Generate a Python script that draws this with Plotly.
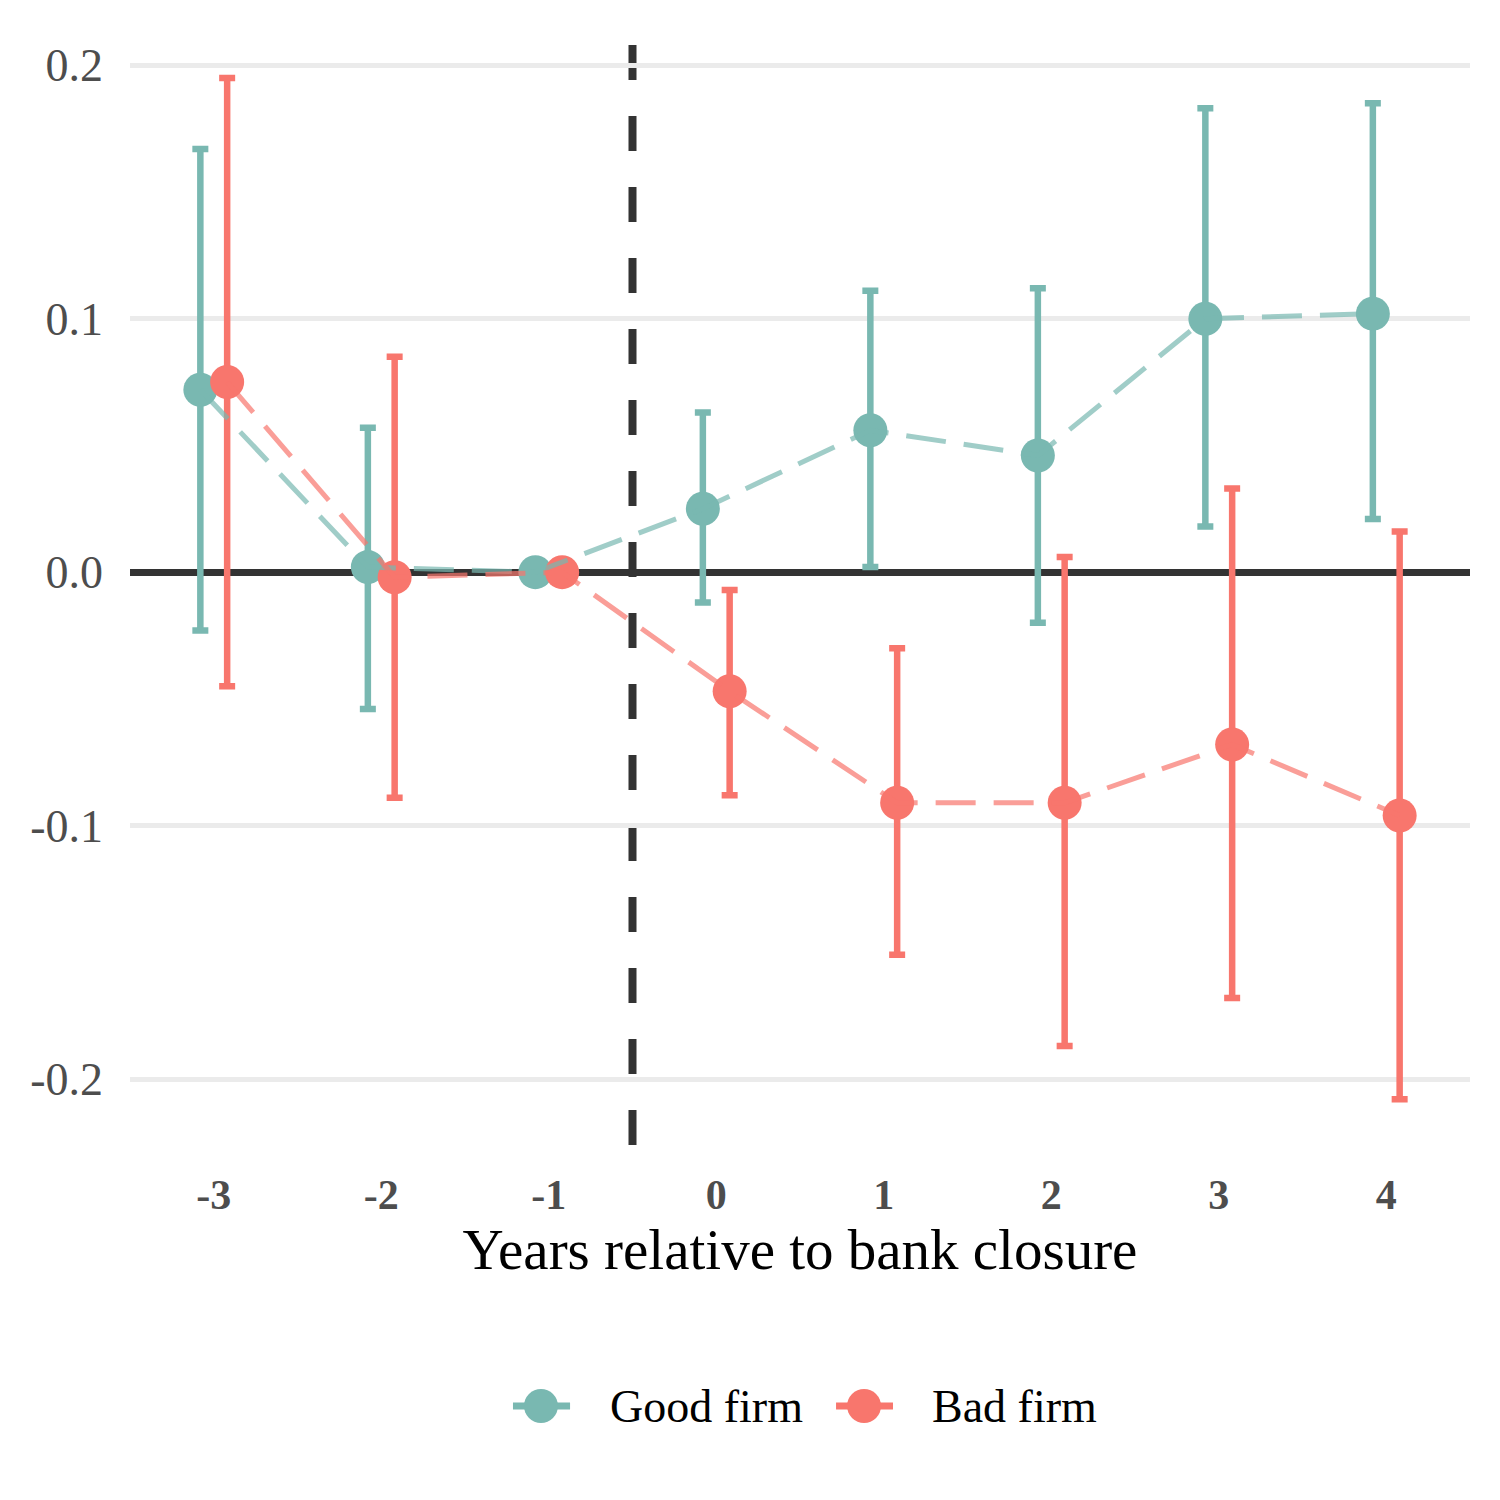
import plotly.graph_objects as go

years = [-3, -2, -1, 0, 1, 2, 3, 4]
tick_labels = ["-3", "-2", "-1", "0", "1", "2", "3", "4"]

good_est = [0.072, 0.002, 0.0, 0.025, 0.056, 0.046, 0.100, 0.102]
good_hi = [0.167, 0.057, None, 0.063, 0.111, 0.112, 0.183, 0.185]
good_lo = [-0.023, -0.054, None, -0.012, 0.002, -0.020, 0.018, 0.021]

bad_est = [0.075, -0.002, 0.0, -0.047, -0.091, -0.091, -0.068, -0.096]
bad_hi = [0.195, 0.085, None, -0.007, -0.030, 0.006, 0.033, 0.016]
bad_lo = [-0.045, -0.089, None, -0.088, -0.151, -0.187, -0.168, -0.208]

legend_names = ["Good firm", "Bad firm"]

dodge = 0.08
GOOD = "#79B8B1"
BAD = "#F8766D"
FONT = "Liberation Serif"


def errs(est, hi, lo):
    plus = [(h - e) if h is not None else 0 for e, h in zip(est, hi)]
    minus = [(e - l) if l is not None else 0 for e, l in zip(est, lo)]
    return plus, minus


fig = go.Figure()

series = [
    (legend_names[0], good_est, good_hi, good_lo, GOOD, -dodge),
    (legend_names[1], bad_est, bad_hi, bad_lo, BAD, dodge),
]

for name, est, hi, lo, col, off in series:
    xs = [y + off for y in years]
    plus, minus = errs(est, hi, lo)
    fig.add_trace(go.Scatter(
        x=xs, y=est, mode="markers", name=name, showlegend=False,
        marker=dict(color=col, size=34),
        error_y=dict(type="data", symmetric=False, array=plus, arrayminus=minus,
                     color=col, thickness=6.5, width=8),
    ))

for name, est, hi, lo, col, off in series:
    xs = [y + off for y in years]
    fig.add_trace(go.Scatter(
        x=xs, y=est, mode="lines", showlegend=False, opacity=0.7,
        line=dict(color=col, width=5, dash="40px,18px"),
    ))

# reference line at the closure
fig.add_shape(type="line", xref="x", yref="paper", x0=-0.5, x1=-0.5, y0=1, y1=0,
              line=dict(color="#333333", width=8, dash="35px,36px"), layer="between")

# custom legend (guide, in paper coordinates of the plot area)
legend_keys = [
    (legend_names[0], GOOD, 0.2858, 0.3284, 0.3067, 0.3567),
    (legend_names[1], BAD, 0.5269, 0.5694, 0.5478, 0.5970),
]
ly = -0.2317
r_x = 17 / 1340
r_y = 17 / 1105
for name, col, x0, x1, xc, xt in legend_keys:
    fig.add_shape(type="line", xref="paper", yref="paper", x0=x0, x1=x1, y0=ly, y1=ly,
                  line=dict(color=col, width=7))
    fig.add_shape(type="circle", xref="paper", yref="paper",
                  x0=xc - r_x, x1=xc + r_x, y0=ly - r_y, y1=ly + r_y,
                  line=dict(width=0), fillcolor=col)
    fig.add_annotation(text=name, xref="paper", yref="paper", x=xt, y=ly,
                       xanchor="left", yanchor="middle", showarrow=False,
                       font=dict(family=FONT, size=46, color="black"))

fig.update_layout(
    width=1500, height=1500,
    margin=dict(l=122, r=38, t=37, b=358),
    plot_bgcolor="white", paper_bgcolor="white",
    font=dict(family=FONT, color="black"),
    showlegend=False,
    xaxis=dict(
        range=[-3.5, 4.5], tickvals=years, ticktext=tick_labels,
        showgrid=False, zeroline=False, showline=False, ticks="",
        tickfont=dict(family=FONT, size=42, color="#4D4D4D", weight="bold"),
        ticklabelstandoff=16,
        title=dict(text="Years relative to bank closure",
                   font=dict(family=FONT, size=57, color="black"), standoff=12),
    ),
    yaxis=dict(
        range=[-0.228, 0.208], tickvals=[-0.2, -0.1, 0.0, 0.1, 0.2],
        ticktext=["-0.2", "-0.1", "0.0", "0.1", "0.2"],
        showgrid=True, gridcolor="#EBEBEB", gridwidth=4.5,
        zeroline=True, zerolinecolor="#333333", zerolinewidth=7,
        showline=False, ticks="",
        tickfont=dict(family=FONT, size=46, color="#4D4D4D"),
        ticklabelstandoff=26,
    ),
)

fig.write_html("out.html")
